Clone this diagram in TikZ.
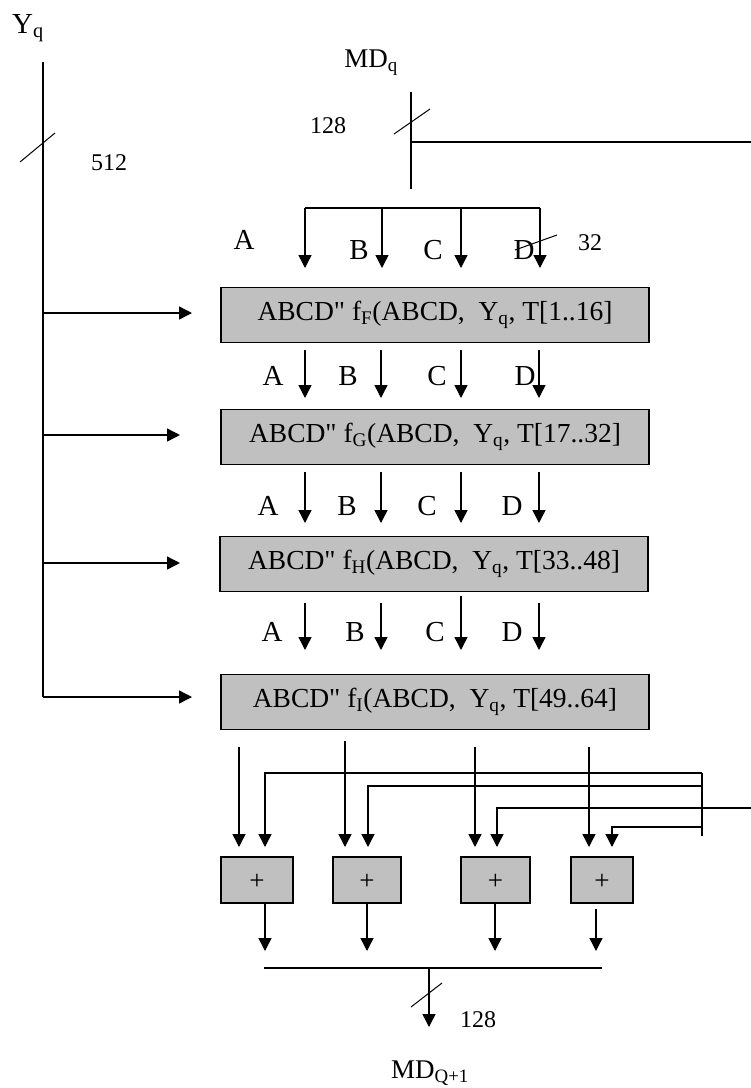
\documentclass[tikz,border=0pt]{standalone}
\usepackage{fontspec}
\setmainfont{Liberation Serif}
\usetikzlibrary{arrows.meta}
\definecolor{boxgray}{RGB}{192,192,192}
\newcommand{\boxfont}{\fontsize{27.5}{32}\selectfont}
\newcommand{\lblfont}{\fontsize{29}{33}\selectfont}
\newcommand{\mdfont}{\fontsize{27}{31}\selectfont}
\newcommand{\numfont}{\fontsize{24}{28}\selectfont}
\newcommand{\plusfont}{\fontsize{27}{31}\selectfont}
\newcommand{\qq}{\textquotedbl}
\begin{document}
\begin{tikzpicture}[x=1pt,y=-1pt,line width=1.4pt,
  arr/.style={-{Triangle[length=13pt,width=13pt]}},
  slash/.style={line width=1pt},
  fbox/.style={draw,line width=1.6pt,fill=boxgray,minimum width=428pt,minimum height=55pt,inner sep=0pt,font=\boxfont},
  addbox/.style={draw,line width=1.6pt,fill=boxgray,minimum height=46pt,inner sep=0pt},
  plus/.style={font=\plusfont,inner sep=0pt},
  lbl/.style={font=\lblfont,inner sep=0pt},
  mdl/.style={font=\mdfont,inner sep=0pt},
  num/.style={font=\numfont,inner sep=0pt}]
\useasboundingbox (0,0) rectangle (751,1088);

% ---------- Y_q input bus ----------
\node[lbl] (yq) at (28,28) {Y\textsubscript{q}};
\coordinate (yl0) at (43,62);
\coordinate (yl1) at (43,313);
\coordinate (yl2) at (43,435);
\coordinate (yl3) at (43,563);
\coordinate (yl4) at (43,697);
\draw (yl0) -- (yl4);
\coordinate (ys1) at (20,162);
\coordinate (ys2) at (55,133);
\draw[slash] (ys1) -- (ys2);
\node[num] (n512) at (109,163) {512};

% ---------- Rounds ----------
\node[fbox] (F) at (435,315) {ABCD\qq{} f\textsubscript{F}(ABCD,\ \ Y\textsubscript{q}, T[1..16]};
\node[fbox] (G) at (435,437) {ABCD\qq{} f\textsubscript{G}(ABCD,\ \ Y\textsubscript{q}, T[17..32]};
\node[fbox] (H) at (434,564) {ABCD\qq{} f\textsubscript{H}(ABCD,\ \ Y\textsubscript{q}, T[33..48]};
\node[fbox] (I) at (435,702) {ABCD\qq{} f\textsubscript{I}(ABCD,\ \ Y\textsubscript{q}, T[49..64]};

\coordinate (yt1) at (192,313);
\coordinate (yt2) at (180,435);
\coordinate (yt3) at (180,563);
\coordinate (yt4) at (192,697);
\draw[arr] (yl1) -- (yt1);
\draw[arr] (yl2) -- (yt2);
\draw[arr] (yl3) -- (yt3);
\draw[arr] (yl4) -- (yt4);

% ---------- MD_q input ----------
\node[mdl] (mdq) at (371,63) {MD\textsubscript{q}};
\coordinate (m0) at (411,92);
\coordinate (m1) at (411,142);
\coordinate (m2) at (411,189);
\coordinate (mr) at (751,142);
\draw (m0) -- (m2);
\draw (m1) -- (mr);
\coordinate (ms1) at (394,134);
\coordinate (ms2) at (430,109);
\draw[slash] (ms1) -- (ms2);
\node[num] (n128a) at (328,126) {128};

% top distribution bus
\coordinate (ba) at (305,208);
\coordinate (bb) at (382,208);
\coordinate (bc) at (461,208);
\coordinate (bd) at (540,208);
\draw (ba) -- (bd);
\coordinate (ta) at (305,268);
\coordinate (tb) at (382,268);
\coordinate (tc) at (461,268);
\coordinate (td) at (540,268);
\draw[arr] (ba) -- (ta);
\draw[arr] (bb) -- (tb);
\draw[arr] (bc) -- (tc);
\draw[arr] (bd) -- (td);
\node[lbl] (la0) at (244,240) {A};
\node[lbl] (lb0) at (359,250) {B};
\node[lbl] (lc0) at (433,250) {C};
\node[lbl] (ld0) at (524,250) {D};
\coordinate (ds1) at (515,250);
\coordinate (ds2) at (557,235);
\draw[slash] (ds1) -- (ds2);
\node[num] (n32) at (590,243) {32};

% ---------- between F and G ----------
\coordinate (fa0) at (305,350); \coordinate (fa1) at (305,398);
\coordinate (fb0) at (381,350); \coordinate (fb1) at (381,398);
\coordinate (fc0) at (461,350); \coordinate (fc1) at (461,398);
\coordinate (fd0) at (539,350); \coordinate (fd1) at (539,398);
\draw[arr] (fa0) -- (fa1);
\draw[arr] (fb0) -- (fb1);
\draw[arr] (fc0) -- (fc1);
\draw[arr] (fd0) -- (fd1);
\node[lbl] (la1) at (273,376) {A};
\node[lbl] (lb1) at (348,376) {B};
\node[lbl] (lc1) at (437,376) {C};
\node[lbl] (ld1) at (525,376) {D};

% ---------- between G and H ----------
\coordinate (ga0) at (305,472); \coordinate (ga1) at (305,523);
\coordinate (gb0) at (381,472); \coordinate (gb1) at (381,523);
\coordinate (gc0) at (461,472); \coordinate (gc1) at (461,523);
\coordinate (gd0) at (539,472); \coordinate (gd1) at (539,523);
\draw[arr] (ga0) -- (ga1);
\draw[arr] (gb0) -- (gb1);
\draw[arr] (gc0) -- (gc1);
\draw[arr] (gd0) -- (gd1);
\node[lbl] (la2) at (268,506) {A};
\node[lbl] (lb2) at (347,506) {B};
\node[lbl] (lc2) at (427,506) {C};
\node[lbl] (ld2) at (512,506) {D};

% ---------- between H and I ----------
\coordinate (ha0) at (305,603); \coordinate (ha1) at (305,650);
\coordinate (hb0) at (381,603); \coordinate (hb1) at (381,650);
\coordinate (hc0) at (461,596); \coordinate (hc1) at (461,650);
\coordinate (hd0) at (539,603); \coordinate (hd1) at (539,650);
\draw[arr] (ha0) -- (ha1);
\draw[arr] (hb0) -- (hb1);
\draw[arr] (hc0) -- (hc1);
\draw[arr] (hd0) -- (hd1);
\node[lbl] (la3) at (272,632) {A};
\node[lbl] (lb3) at (355,632) {B};
\node[lbl] (lc3) at (435,632) {C};
\node[lbl] (ld3) at (512,632) {D};

% ---------- adders ----------
\node[addbox,minimum width=72pt] (P1) at (257,880) {};
\node[addbox,minimum width=68pt] (P2) at (367,880) {};
\node[addbox,minimum width=69pt] (P3) at (495.5,880) {};
\node[addbox,minimum width=62pt] (P4) at (602,880) {};
\node[plus] (p1) at (257,882) {+};
\node[plus] (p2) at (367,882) {+};
\node[plus] (p3) at (495.5,882) {+};
\node[plus] (p4) at (602,882) {+};

% outputs of last round
\coordinate (ia0) at (239,747); \coordinate (ia1) at (239,847);
\coordinate (ib0) at (345,741); \coordinate (ib1) at (345,847);
\coordinate (ic0) at (475,747); \coordinate (ic1) at (475,847);
\coordinate (id0) at (589,747); \coordinate (id1) at (589,847);
\draw[arr] (ia0) -- (ia1);
\draw[arr] (ib0) -- (ib1);
\draw[arr] (ic0) -- (ic1);
\draw[arr] (id0) -- (id1);

% feed-forward of MD_q
\coordinate (fv1) at (702,773);
\coordinate (fv2) at (702,786);
\coordinate (fv4) at (702,827);
\coordinate (fvb) at (702,836);
\coordinate (fr3) at (751,808);
\coordinate (k1) at (265,773); \coordinate (k1t) at (265,847);
\coordinate (k2) at (368,786); \coordinate (k2t) at (368,847);
\coordinate (k3) at (497,808); \coordinate (k3t) at (497,847);
\coordinate (k4) at (612,827); \coordinate (k4t) at (612,847);
\draw (fv1) -- (fvb);
\draw[arr] (fv1) -- (k1) -- (k1t);
\draw[arr] (fv2) -- (k2) -- (k2t);
\draw[arr] (fr3) -- (k3) -- (k3t);
\draw[arr] (fv4) -- (k4) -- (k4t);

% adder outputs
\coordinate (oa0) at (265,903); \coordinate (oa1) at (265,951);
\coordinate (ob0) at (367,903); \coordinate (ob1) at (367,951);
\coordinate (oc0) at (495,903); \coordinate (oc1) at (495,951);
\coordinate (od0) at (596,909); \coordinate (od1) at (596,951);
\draw[arr] (oa0) -- (oa1);
\draw[arr] (ob0) -- (ob1);
\draw[arr] (oc0) -- (oc1);
\draw[arr] (od0) -- (od1);

% output bus
\coordinate (bo1) at (264,968);
\coordinate (bo2) at (602,968);
\coordinate (bom) at (429,968);
\coordinate (bot) at (429,1027);
\draw (bo1) -- (bo2);
\draw[arr] (bom) -- (bot);
\coordinate (os1) at (411,1007);
\coordinate (os2) at (442,983);
\draw[slash] (os1) -- (os2);
\node[num] (n128b) at (478,1020) {128};
\node[mdl] (mdq1) at (430,1073) {MD\textsubscript{Q+1}};
\end{tikzpicture}
\end{document}
